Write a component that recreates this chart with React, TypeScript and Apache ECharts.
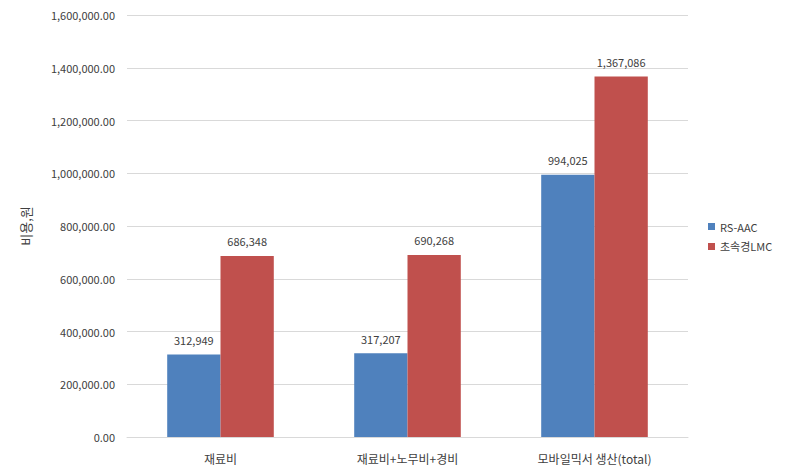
import React, { useEffect, useRef } from "react";
import * as echarts from "echarts";

const categories = ["재료비", "재료비+노무비+경비", "모바일믹서 생산(total)"];
const rsAac = [312949, 317207, 994025];
const lmc = [686348, 690268, 1367086];
const seriesNames = ["RS-AAC", "초속경LMC"];

const FONT = "'Noto Sans CJK KR', 'Noto Sans', sans-serif";

export default function App() {
  const ref = useRef<HTMLDivElement>(null);
  useEffect(() => {
    if (!ref.current) return;
    const chart = echarts.init(ref.current, null, { renderer: "svg" });
    const fmt = (v: number) => v.toLocaleString("en-US");
    chart.setOption({
      animation: false,
      textStyle: { fontFamily: FONT },
      grid: { left: 127, right: 102, top: 15, bottom: 39, containLabel: false },
      legend: {
        orient: "vertical",
        left: 703,
        top: 216,
        itemWidth: 7,
        itemHeight: 7,
        itemGap: 9,
        icon: "rect",
        textStyle: { fontSize: 11, color: "#404040", fontFamily: FONT },
        data: seriesNames,
      },
      xAxis: {
        type: "category",
        data: categories,
        axisLine: { lineStyle: { color: "#d9d9d9" } },
        axisTick: { show: false },
        axisLabel: { fontSize: 12, color: "#404040", margin: 15, fontFamily: FONT },
      },
      yAxis: {
        type: "value",
        min: 0,
        max: 1600000,
        interval: 200000,
        name: "비용,원",
        nameLocation: "middle",
        nameRotate: 90,
        nameGap: 95,
        nameTextStyle: { fontSize: 13, color: "#404040", fontFamily: FONT },
        axisLine: { show: false },
        axisTick: { show: false },
        splitLine: { lineStyle: { color: "#d9d9d9" } },
        axisLabel: {
          fontSize: 11,
          color: "#404040",
          margin: 12,
          fontFamily: FONT,
          formatter: (v: number) =>
            v.toLocaleString("en-US", { minimumFractionDigits: 2, maximumFractionDigits: 2 }),
        },
      },
      series: [
        {
          name: seriesNames[0],
          type: "bar",
          data: rsAac,
          barWidth: "28.5%",
          barGap: "0%",
          itemStyle: { color: "#4F81BD" },
          label: {
            show: true,
            position: "top",
            distance: 9,
            fontSize: 11,
            color: "#404040",
            fontFamily: FONT,
            formatter: (p: any) => fmt(p.value),
          },
        },
        {
          name: seriesNames[1],
          type: "bar",
          data: lmc,
          barWidth: "28.5%",
          barGap: "0%",
          itemStyle: { color: "#C0504D" },
          label: {
            show: true,
            position: "top",
            distance: 9,
            fontSize: 11,
            color: "#404040",
            fontFamily: FONT,
            formatter: (p: any) => fmt(p.value),
          },
        },
      ],
    });
    return () => chart.dispose();
  }, []);
  return <div ref={ref} style={{ width: 790, height: 476, margin: -8 }} />;
}
